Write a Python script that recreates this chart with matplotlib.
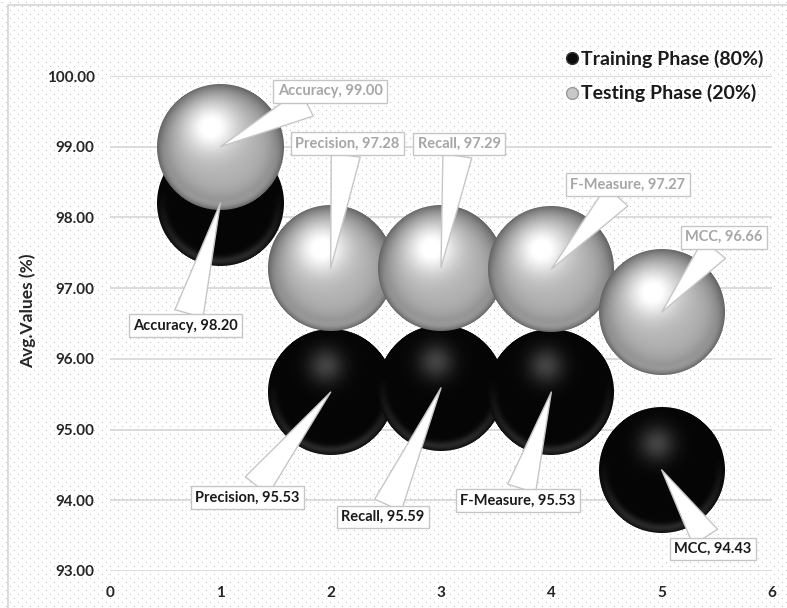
import numpy as np
import matplotlib
matplotlib.use("Agg")
import matplotlib.pyplot as plt
from matplotlib.offsetbox import OffsetImage, AnnotationBbox
from matplotlib.patches import Rectangle
from matplotlib.lines import Line2D

# ---- data ----
metrics = ["Accuracy", "Precision", "Recall", "F-Measure", "MCC"]
x_pos = [1, 2, 3, 4, 5]
training = [98.20, 95.53, 95.59, 95.53, 94.43]
testing = [99.00, 97.28, 97.29, 97.27, 96.66]
series_names = ["Training Phase (80%)", "Testing Phase (20%)"]
y_ticks = [93, 94, 95, 96, 97, 98, 99, 100]
x_ticks = [0, 1, 2, 3, 4, 5, 6]

plt.rcParams["font.family"] = ["Lato", "DejaVu Sans"]
plt.rcParams["font.weight"] = "bold"

W, H, DPI = 787, 608, 100
fig = plt.figure(figsize=(W / DPI, H / DPI), dpi=DPI)

# dotted chart-area fill
bg = np.ones((H, W, 3))
yy, xx = np.mgrid[0:H, 0:W]
dots = ((yy % 8 == 2) & (xx % 8 == 2)) | ((yy % 8 == 6) & (xx % 8 == 6))
bg[dots] = 0.76
fig.figimage(bg, 0, 0, zorder=-5)
fig.add_artist(Rectangle((8 / W, -0.1), 1.2, (H - 5) / H + 0.1,
                         transform=fig.transFigure, fill=False,
                         ec="#d4d4d4", lw=1.2, zorder=-4))

ax = fig.add_axes([110 / W, 37 / H, 662 / W, 495 / H])
ax.set_facecolor("none")
ax.set_xlim(0, 6)
ax.set_ylim(93, 100)
ax.set_xticks(x_ticks)
ax.set_xticklabels([str(t) for t in x_ticks], fontweight="bold")
ax.set_yticks(y_ticks)
ax.set_yticklabels([f"{t:.2f}" for t in y_ticks], fontweight="bold")
for s in ax.spines.values():
    s.set_visible(False)
ax.yaxis.grid(True, color="#d9d9d9", lw=1.3)
ax.set_axisbelow(True)
ax.tick_params(axis="both", length=0, labelsize=11, colors="#262626")
ax.tick_params(axis="y", pad=11)
ax.tick_params(axis="x", pad=11)
ax.set_ylabel("Avg.Values (%)", fontsize=12.5, fontweight="bold", color="#262626")
ax.yaxis.set_label_coords(-0.112, 0.525)


def sphere_rgba(n, kind):
    c = (np.arange(n) + 0.5) / n * 2 - 1
    u, v = np.meshgrid(c, -c)
    d = np.sqrt(u ** 2 + v ** 2)
    alpha = np.clip((1 - d) * n / 2 + 0.5, 0, 1)
    dc = np.clip(d, 0, 1)
    rim = np.exp(-((dc - 0.92) / 0.07) ** 2) * np.clip(-v + 0.2, 0, 1)
    if kind == "light":
        dh = np.sqrt((u + 0.15) ** 2 + (v - 0.32) ** 2)
        I = 0.70 + 0.34 * np.exp(-(dh / 0.42) ** 2)
        I -= 0.32 * dc ** 5
        I += 0.09 * rim
    else:
        dh = np.sqrt((u + 0.08) ** 2 + (v - 0.42) ** 2)
        I = 0.02 + 0.24 * np.exp(-(dh / 0.28) ** 2)
        I += 0.14 * rim
    I = np.clip(I, 0, 1)
    return np.dstack([I, I, I, alpha])


N = 256
radius_px = 63
zoom = (2 * radius_px) / (N * DPI / 72)
img_dark = sphere_rgba(N, "dark")
img_light = sphere_rgba(N, "light")
marker_s = (2 * (radius_px - 3) * 72 / DPI) ** 2

# training bubbles first, testing drawn above
ax.scatter(x_pos, training, s=marker_s, color="#0a0a0a", lw=0, zorder=3)
for i, (x, y) in enumerate(zip(x_pos, training)):
    ab = AnnotationBbox(OffsetImage(img_dark, zoom=zoom), (x, y), xycoords="data",
                        frameon=False, pad=0, annotation_clip=False)
    ab.set_zorder(4 + i * 0.01)
    ax.add_artist(ab)
ax.scatter(x_pos, testing, s=marker_s, color="#b4b4b4", lw=0, zorder=5)
for i, (x, y) in enumerate(zip(x_pos, testing)):
    ab = AnnotationBbox(OffsetImage(img_light, zoom=zoom), (x, y), xycoords="data",
                        frameon=False, pad=0, annotation_clip=False)
    ab.set_zorder(6 + i * 0.01)
    ax.add_artist(ab)

# callout labels
test_offsets = [(79, 40), (12, 90), (13, 89), (55, 61), (45, 54)]
train_offsets = [(-25, -88), (-60, -76), (-42, -93), (-24, -78), (37, -57)]


def callout(x, y, text, off, color):
    ax.annotate(text, xy=(x, y), xycoords="data", xytext=off,
                textcoords="offset points", ha="center", va="center",
                fontsize=10.5, fontweight="bold", color=color, zorder=10,
                bbox=dict(boxstyle="square,pad=0.3", fc="white", ec="#c6c6c6", lw=1),
                arrowprops=dict(arrowstyle="wedge,tail_width=2.0,shrink_factor=0.5",
                                fc="white", ec="#c6c6c6", lw=1, mutation_scale=10.5,
                                shrinkA=0, shrinkB=0),
                annotation_clip=False)


for m, x, y, off in zip(metrics, x_pos, testing, test_offsets):
    callout(x, y, f"{m}, {y:.2f}", off, "#a6a6a6")
for m, x, y, off in zip(metrics, x_pos, training, train_offsets):
    callout(x, y, f"{m}, {y:.2f}", off, "#1a1a1a")

handles = [
    Line2D([], [], ls="none", marker="o", ms=8.5, mfc="#0a0a0a", mec="#333333"),
    Line2D([], [], ls="none", marker="o", ms=8.5, mfc="#c8c8c8", mec="#999999"),
]
leg = fig.legend(handles, series_names, loc="upper left",
                 bbox_to_anchor=(554 / W, 1 - 42 / H), frameon=False,
                 prop=dict(family=["Lato", "DejaVu Sans"], weight="bold", size=14),
                 handletextpad=0.0, labelspacing=0.85, handlelength=1.0,
                 borderaxespad=0)
for t in leg.get_texts():
    t.set_color("#1a1a1a")

fig.savefig("out.png", dpi=DPI)
